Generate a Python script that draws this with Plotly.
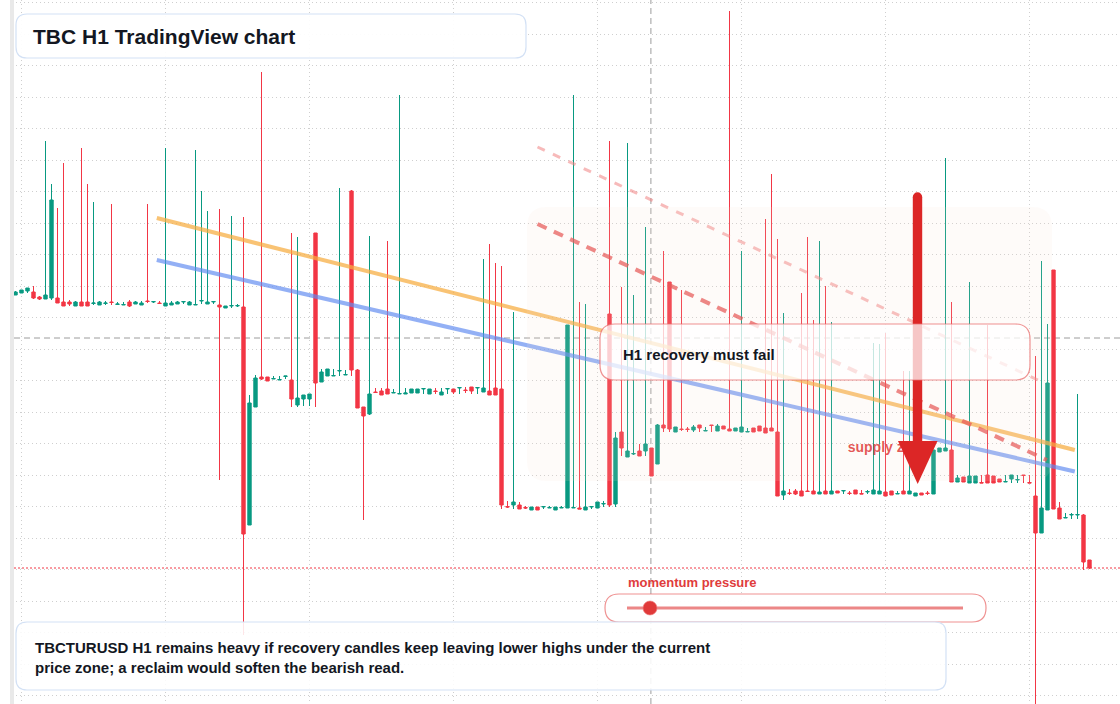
import plotly.graph_objects as go

W, H = 1120, 704

# ---------------- data (H1 candles, price units) ----------------
opens = [4.09, 4.11, 4.13, 4.12, 4.07, 4.05, 4.06, 4.06, 4.02, 4.02,
         3.98, 4.02, 4.02, 4.005, 3.99, 4.005, 4.02, 3.995, 3.99, 4.02,
         4.00, 3.99, 4.03, 4.02, 4.01, 3.98, 3.99, 4.00, 4.02, 3.99,
         3.99, 4.03, 4.00, 4.02, 3.99, 3.96, 3.98, 3.98, 3.97, 1.79,
         2.97, 3.27, 3.27, 3.25, 3.24, 3.275, 3.24, 2.99, 3.05, 3.05,
         4.71, 3.22, 3.28, 3.28, 3.33, 3.29, 5.13, 3.34, 2.97, 2.90,
         3.12, 3.13, 3.15, 3.11, 3.10, 3.10, 3.11, 3.11, 3.15, 3.10,
         3.13, 3.09, 3.15, 3.15, 3.16, 3.14, 3.17, 3.16, 3.12, 3.13,
         3.16, 3.15, 1.975, 1.99, 1.99, 1.965, 1.94, 1.97, 1.97, 1.96,
         1.94, 1.96, 1.96, 1.96, 1.96, 1.94, 1.97, 1.96, 2.00, 3.90,
         2.00, 2.72, 2.47, 2.50, 2.53, 2.53, 2.56, 2.40, 2.79, 4.22,
         2.72, 2.75, 2.75, 2.74, 2.79, 2.73, 2.79, 2.73, 2.78, 2.75,
         2.73, 2.72, 2.72, 2.76, 2.78, 2.76, 2.76, 2.72, 2.09, 2.11,
         2.13, 2.13, 2.13, 2.13, 2.10, 2.13, 2.10, 2.13, 2.13, 2.11,
         2.14, 2.105, 2.12, 2.10, 2.10, 2.12, 2.13, 2.10, 2.13, 2.10,
         2.08, 2.11, 2.11, 2.10, 2.52, 2.53, 2.54, 2.22, 2.27, 2.21,
         2.21, 2.215, 2.29, 2.28, 2.25, 2.22, 2.25, 2.24, 2.29, 2.215,
         2.08, 1.71, 1.94, 4.34, 1.96, 1.86, 1.89, 1.89, 1.89, 1.44]
highs = [4.13, 4.14, 4.16, 4.18, 4.08, 5.63, 5.20, 4.96, 5.41, 4.04,
         4.03, 5.56, 5.20, 5.02, 4.03, 4.03, 5.00, 4.02, 4.02, 4.04,
         4.03, 4.03, 5.00, 4.03, 4.03, 5.56, 4.03, 4.03, 4.03, 4.03,
         5.54, 5.13, 4.93, 4.03, 4.95, 3.98, 4.88, 4.00, 4.87, 3.09,
         3.29, 6.32, 3.27, 3.28, 3.28, 3.28, 4.71, 4.67, 3.09, 3.10,
         4.71, 3.35, 3.35, 3.35, 5.16, 3.34, 5.14, 3.35, 2.97, 4.68,
         3.16, 3.16, 4.63, 3.15, 6.09, 3.16, 3.15, 3.15, 3.16, 3.15,
         3.16, 3.16, 3.16, 3.15, 3.17, 3.17, 3.17, 3.17, 4.45, 4.60,
         4.41, 4.38, 2.03, 3.92, 2.02, 1.98, 1.97, 1.97, 1.98, 1.98,
         1.97, 1.98, 3.79, 6.09, 4.02, 4.00, 1.98, 2.02, 2.03, 5.63,
         2.72, 4.17, 5.61, 4.09, 2.60, 4.77, 2.56, 2.80, 4.53, 4.22,
         2.77, 4.14, 2.77, 2.79, 2.79, 2.77, 2.79, 2.80, 2.78, 6.93,
         2.76, 4.53, 2.76, 2.76, 2.78, 4.85, 5.30, 4.65, 3.91, 2.15,
         2.15, 4.11, 4.67, 3.84, 4.63, 4.18, 3.82, 2.13, 2.14, 2.13,
         2.14, 2.14, 2.14, 3.61, 3.60, 3.71, 2.13, 2.13, 3.33, 3.33,
         2.11, 2.11, 2.13, 2.54, 2.56, 5.46, 4.02, 2.29, 2.27, 4.22,
         2.28, 2.29, 3.79, 2.28, 2.25, 2.29, 2.29, 2.29, 2.29, 2.29,
         3.48, 4.43, 3.80, 4.34, 2.02, 1.91, 1.91, 3.10, 1.90, 1.44]
lows = [4.09, 4.11, 4.11, 4.05, 4.04, 4.05, 4.04, 4.01, 3.98, 3.98,
        3.98, 3.98, 3.98, 3.99, 3.99, 3.99, 3.99, 3.99, 3.99, 3.97,
        4.00, 3.99, 4.01, 4.01, 4.00, 3.98, 3.99, 4.00, 4.00, 3.99,
        3.99, 4.00, 4.00, 4.00, 2.24, 3.96, 3.96, 3.97, 0.69, 1.79,
        2.97, 3.24, 3.23, 3.25, 3.24, 3.25, 2.97, 2.97, 2.98, 2.98,
        2.97, 3.22, 3.28, 3.28, 3.28, 3.29, 3.28, 2.96, 1.84, 2.89,
        3.11, 3.09, 3.10, 3.11, 3.10, 3.10, 3.11, 3.11, 3.10, 3.10,
        3.10, 3.09, 3.10, 3.10, 3.10, 3.11, 3.10, 3.10, 3.12, 3.09,
        3.09, 1.95, 1.96, 1.95, 1.95, 1.95, 1.94, 1.94, 1.95, 1.96,
        1.94, 1.96, 1.96, 1.96, 1.95, 1.94, 1.95, 1.96, 1.97, 1.97,
        1.97, 2.48, 2.47, 2.49, 2.48, 2.48, 2.28, 2.40, 2.72, 2.72,
        2.72, 2.73, 2.72, 2.72, 2.72, 2.73, 2.72, 2.73, 2.75, 2.73,
        2.73, 2.72, 2.72, 2.72, 2.73, 2.71, 2.73, 2.08, 2.04, 2.09,
        2.09, 2.08, 2.12, 2.10, 2.10, 2.10, 2.10, 2.11, 2.10, 2.09,
        2.10, 2.10, 2.10, 2.10, 2.10, 2.08, 2.09, 2.10, 2.10, 2.10,
        2.08, 2.09, 2.09, 2.10, 2.52, 2.53, 2.22, 2.22, 2.22, 2.21,
        2.21, 2.21, 2.21, 2.21, 2.22, 2.22, 2.21, 2.21, 2.21, 2.21,
        0.00, 1.71, 1.94, 1.95, 1.85, 1.86, 1.85, 1.85, 1.34, 1.35]
closes = [4.12, 4.14, 4.16, 4.06, 4.05, 4.09, 5.04, 4.01, 3.98, 4.00,
          4.02, 3.98, 3.98, 4.01, 4.02, 4.01, 4.015, 4.00, 3.995, 3.98,
          4.02, 4.01, 4.025, 4.025, 4.005, 4.01, 4.01, 4.02, 4.025, 4.02,
          3.995, 4.035, 4.02, 4.025, 3.97, 3.98, 3.985, 3.985, 1.70, 3.01,
          3.26, 3.25, 3.23, 3.255, 3.245, 3.28, 3.05, 3.06, 3.09, 3.10,
          3.21, 3.32, 3.35, 3.285, 3.335, 3.295, 3.34, 2.96, 2.88, 3.10,
          3.115, 3.09, 3.10, 3.115, 3.105, 3.11, 3.15, 3.15, 3.155, 3.15,
          3.125, 3.12, 3.155, 3.12, 3.165, 3.135, 3.13, 3.165, 3.16, 3.09,
          3.09, 1.99, 1.97, 2.02, 1.95, 1.96, 1.97, 1.94, 1.975, 1.965,
          1.97, 1.965, 3.79, 1.965, 1.95, 1.97, 1.975, 2.02, 2.005, 1.99,
          2.66, 2.56, 2.53, 2.505, 2.48, 2.60, 2.28, 2.79, 2.76, 2.75,
          2.77, 2.745, 2.745, 2.77, 2.76, 2.735, 2.785, 2.78, 2.75, 2.73,
          2.76, 2.77, 2.725, 2.72, 2.73, 2.71, 2.73, 2.08, 2.13, 2.105,
          2.10, 2.08, 2.125, 2.10, 2.12, 2.10, 2.13, 2.11, 2.135, 2.105,
          2.10, 2.10, 2.125, 2.14, 2.13, 2.08, 2.09, 2.105, 2.10, 2.13,
          2.11, 2.09, 2.105, 2.54, 2.56, 2.56, 2.22, 2.26, 2.22, 2.28,
          2.28, 2.21, 2.21, 2.21, 2.22, 2.225, 2.29, 2.245, 2.285, 2.21,
          1.71, 1.96, 3.21, 1.95, 1.85, 1.865, 1.895, 1.895, 1.42, 1.36]
bars = list(range(len(opens)))

# drawn trend lines: (bar index, price)
orange_x = [23.55, 176.55]
orange_y = [4.86, 2.54]
blue_x = [23.55, 176.55]
blue_y = [4.44, 2.325]
red_dash_x = [87.0, 171.9]
red_dash_y = [4.80, 2.44]
pink_dash_x = [87.0, 170.4]
pink_dash_y = [5.57, 3.24]

crosshair_bar = 105.9
crosshair_price = 3.66
supply_bar = 138.7
supply_price = 2.56

title_text = "TBC H1 TradingView chart"
callout_text = "H1 recovery must fail"
supply_text = "supply zone"
meter_text = "momentum pressure"
note_text = ("TBCTURUSD H1 remains heavy if recovery candles keep leaving lower highs under the current"
             "<br>price zone; a reclaim would soften the bearish read.")

GREEN = "#089981"
RED = "#f23645"
FONT = "Liberation Sans, Arial, sans-serif"
INK = "#131722"

# ---------------- helpers (pixel -> paper) ----------------
def P(x, y):
    return f"{x / W:.5f},{1 - y / H:.5f}"


def rrect(x0, y0, x1, y1, r):
    return (f"M{P(x0 + r, y0)} L{P(x1 - r, y0)} Q{P(x1, y0)} {P(x1, y0 + r)} "
            f"L{P(x1, y1 - r)} Q{P(x1, y1)} {P(x1 - r, y1)} L{P(x0 + r, y1)} "
            f"Q{P(x0, y1)} {P(x0, y1 - r)} L{P(x0, y0 + r)} Q{P(x0, y0)} {P(x0 + r, y0)} Z")


fig = go.Figure()

fig.add_trace(go.Candlestick(
    x=bars, open=opens, high=highs, low=lows, close=closes,
    increasing=dict(line=dict(color=GREEN, width=1), fillcolor=GREEN),
    decreasing=dict(line=dict(color=RED, width=1), fillcolor=RED),
    whiskerwidth=0, hoverinfo="skip", showlegend=False,
))

fig.add_trace(go.Scatter(x=orange_x, y=orange_y, mode="lines",
                         line=dict(color="rgba(247,172,62,0.72)", width=4),
                         hoverinfo="skip", showlegend=False))
fig.add_trace(go.Scatter(x=blue_x, y=blue_y, mode="lines",
                         line=dict(color="rgba(96,138,240,0.68)", width=4),
                         hoverinfo="skip", showlegend=False))
fig.add_trace(go.Scatter(x=pink_dash_x, y=pink_dash_y, mode="lines",
                         line=dict(color="rgba(240,130,130,0.55)", width=3, dash="8px,9px"),
                         hoverinfo="skip", showlegend=False))
fig.add_trace(go.Scatter(x=red_dash_x, y=red_dash_y, mode="lines",
                         line=dict(color="rgba(228,70,70,0.72)", width=4, dash="10px,8px"),
                         hoverinfo="skip", showlegend=False))
fig.add_trace(go.Scatter(x=[supply_bar], y=[supply_price], mode="text",
                         text=[f"<b>{supply_text}</b>"], textposition="middle right",
                         textfont=dict(family=FONT, size=14, color="rgba(224,58,58,0.95)"),
                         hoverinfo="skip", showlegend=False))

shapes = []
# crosshair + last price line
shapes.append(dict(type="line", layer="between", xref="x", yref="paper",
                   x0=crosshair_bar, x1=crosshair_bar, y0=0, y1=1,
                   line=dict(color="#9c9c9c", width=1, dash="6px,4px")))
shapes.append(dict(type="line", layer="between", xref="paper", yref="y",
                   x0=14 / W, x1=1, y0=crosshair_price, y1=crosshair_price,
                   line=dict(color="#9c9c9c", width=1, dash="6px,4px")))
shapes.append(dict(type="line", layer="between", xref="paper", yref="y",
                   x0=14 / W, x1=1, y0=closes[-1], y1=closes[-1],
                   line=dict(color=RED, width=1, dash="2px,2px")))

# shaded zone
shapes.append(dict(type="path", layer="above", xref="paper", yref="paper",
                   path=rrect(527, 207, 1052, 481, 20),
                   fillcolor="rgba(245,225,205,0.13)", line=dict(width=0)))
# big arrow
shapes.append(dict(type="rect", layer="above", xref="paper", yref="paper",
                   x0=912.8 / W, x1=922.2 / W, y0=1 - 445 / H, y1=1 - 197 / H,
                   fillcolor="#dc2626", line=dict(width=0)))
shapes.append(dict(type="circle", layer="above", xref="paper", yref="paper",
                   x0=912.8 / W, x1=922.2 / W, y0=1 - 201.7 / H, y1=1 - 192.3 / H,
                   fillcolor="#dc2626", line=dict(width=0)))
shapes.append(dict(type="path", layer="above", xref="paper", yref="paper",
                   path=f"M{P(898, 441)} L{P(937.5, 441)} L{P(917.7, 484)} Z",
                   fillcolor="#dc2626", line=dict(width=0)))
# callout box
shapes.append(dict(type="path", layer="above", xref="paper", yref="paper",
                   path=rrect(600, 324, 1030, 380, 15),
                   fillcolor="rgba(255,255,255,0.74)",
                   line=dict(color="rgba(234,110,110,0.75)", width=1.2)))
# title box
shapes.append(dict(type="path", layer="above", xref="paper", yref="paper",
                   path=rrect(16, 14, 526, 58, 11),
                   fillcolor="rgba(255,255,255,0.94)",
                   line=dict(color="#d3e1f5", width=1.2)))
# momentum meter
shapes.append(dict(type="path", layer="above", xref="paper", yref="paper",
                   path=rrect(605, 594, 986, 622, 14),
                   fillcolor="rgba(255,255,255,0.95)",
                   line=dict(color="rgba(234,110,110,0.75)", width=1.2)))
shapes.append(dict(type="line", layer="above", xref="paper", yref="paper",
                   x0=627 / W, x1=963 / W, y0=1 - 608 / H, y1=1 - 608 / H,
                   line=dict(color="rgba(230,95,95,0.75)", width=3)))
shapes.append(dict(type="circle", layer="above", xref="paper", yref="paper",
                   x0=643 / W, x1=657 / W, y0=1 - 615 / H, y1=1 - 601 / H,
                   fillcolor="#e03a3a", line=dict(color="rgba(240,120,120,0.6)", width=1)))
# bottom note box
shapes.append(dict(type="path", layer="above", xref="paper", yref="paper",
                   path=rrect(16, 622, 946, 690, 11),
                   fillcolor="rgba(255,255,255,0.88)",
                   line=dict(color="#d3e1f5", width=1.2)))
# left edge strip
shapes.append(dict(type="rect", layer="above", xref="paper", yref="paper",
                   x0=-0.01, x1=10 / W, y0=-0.01, y1=1.01,
                   fillcolor="#ffffff", line=dict(width=0)))
shapes.append(dict(type="rect", layer="above", xref="paper", yref="paper",
                   x0=10 / W, x1=14 / W, y0=-0.01, y1=1.01,
                   fillcolor="#e9e9e9", line=dict(width=0)))

annotations = [
    dict(xref="paper", yref="paper", x=31 / W, y=1 - 36 / H, xanchor="left", yanchor="middle",
         text=f"<b>{title_text}</b>", showarrow=False,
         font=dict(family=FONT, size=21, color=INK)),
    dict(xref="paper", yref="paper", x=621 / W, y=1 - 354 / H, xanchor="left", yanchor="middle",
         text=f"<b>{callout_text}</b>", showarrow=False,
         font=dict(family=FONT, size=15, color=INK)),
    dict(xref="paper", yref="paper", x=626 / W, y=1 - 582 / H, xanchor="left", yanchor="middle",
         text=f"<b>{meter_text}</b>", showarrow=False,
         font=dict(family=FONT, size=13, color="#e03c3c")),
    dict(xref="paper", yref="paper", x=33 / W, y=1 - 657 / H, xanchor="left", yanchor="middle",
         text=f"<b>{note_text}</b>", showarrow=False, align="left",
         font=dict(family=FONT, size=15, color=INK)),
]

fig.update_layout(
    width=W, height=H,
    margin=dict(l=0, r=0, t=0, b=0, pad=0),
    paper_bgcolor="#ffffff", plot_bgcolor="#ffffff",
    showlegend=False, hovermode=False,
    boxgap=0.3, boxgroupgap=0.2,
    shapes=shapes, annotations=annotations,
    font=dict(family=FONT),
    xaxis=dict(range=[-2.5833, 184.0833], rangeslider=dict(visible=False),
               showgrid=True, gridcolor="#cfcfcf", griddash="1px,3px", gridwidth=1,
               tick0=0.9167, dtick=24.017, showticklabels=False, ticks="",
               zeroline=False, showline=False),
    yaxis=dict(range=[0, 7.04],
               showgrid=True, gridcolor="#cfcfcf", griddash="1px,3px", gridwidth=1,
               tick0=0.083, dtick=0.315, showticklabels=False, ticks="",
               zeroline=False, showline=False),
)

fig.write_html("out.html", config={"displayModeBar": False})
